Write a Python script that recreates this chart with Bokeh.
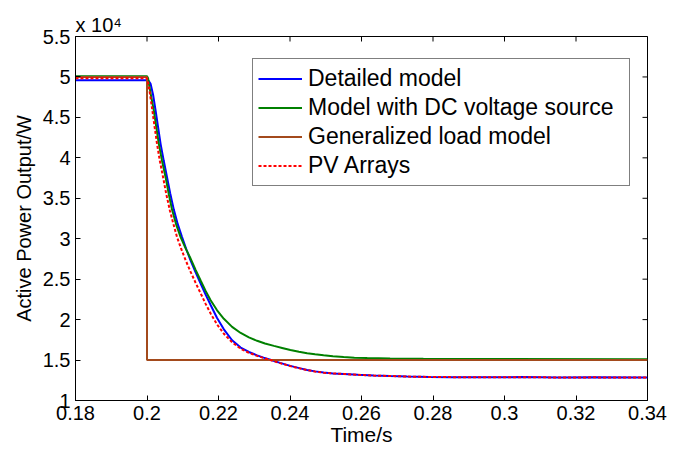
from math import pi
from bokeh.plotting import figure
from bokeh.models import Range1d, FixedTicker, Legend, LegendItem
from bokeh.embed import file_html
from bokeh.resources import INLINE

# ---- data (power in units of 10^4 W, as on the axis) ----
t_detailed = [0.18, 0.2000, 0.2005, 0.2010, 0.2017, 0.2024, 0.2031, 0.2038, 0.2047, 0.2056,
              0.2065, 0.2075, 0.2086, 0.2098, 0.2110, 0.2122, 0.2136, 0.2150, 0.2164, 0.2178,
              0.2196, 0.2215, 0.2238, 0.2262, 0.2285, 0.2308, 0.2326, 0.2345, 0.2372, 0.2401,
              0.2429, 0.2448, 0.2470, 0.2494, 0.2520, 0.2550, 0.2590, 0.2634, 0.2680, 0.2728,
              0.2790, 0.2849, 0.2950, 0.3050, 0.3150, 0.3250, 0.3400]
p_detailed = [4.96, 4.96, 4.95, 4.915, 4.78, 4.585, 4.38, 4.173, 3.96, 3.76,
              3.56, 3.36, 3.18, 3.02, 2.87, 2.73, 2.585, 2.445, 2.31, 2.18,
              2.02, 1.88, 1.745, 1.655, 1.60, 1.558, 1.53, 1.503, 1.465, 1.428,
              1.397, 1.378, 1.36, 1.345, 1.335, 1.328, 1.318, 1.309, 1.302, 1.297,
              1.292, 1.288, 1.286, 1.289, 1.284, 1.287, 1.283]

t_dcsource = [0.18, 0.2000, 0.2003, 0.2006, 0.2012, 0.2019, 0.2026, 0.2033, 0.2042, 0.2052,
              0.2061, 0.2070, 0.2082, 0.2094, 0.2108, 0.2122, 0.2136, 0.2150, 0.2164, 0.2178,
              0.2196, 0.2215, 0.2238, 0.2262, 0.2285, 0.2308, 0.2330, 0.2355, 0.2378, 0.2401,
              0.2425, 0.2448, 0.2470, 0.2494, 0.2520, 0.2550, 0.2580, 0.2616, 0.2680, 0.2773,
              0.3000, 0.3400]
p_dcsource = [5.01, 5.01, 4.985, 4.90, 4.75, 4.585, 4.38, 4.173, 3.965, 3.76,
              3.55, 3.36, 3.17, 3.02, 2.88, 2.755, 2.615, 2.483, 2.355, 2.24,
              2.115, 2.01, 1.91, 1.835, 1.78, 1.738, 1.705, 1.675, 1.65, 1.625,
              1.603, 1.585, 1.571, 1.559, 1.547, 1.537, 1.530, 1.524, 1.519, 1.515,
              1.512, 1.510]

t_general = [0.18, 0.2, 0.2, 0.34]
p_general = [5.0, 5.0, 1.5, 1.5]

t_pv = [0.18, 0.2000, 0.2003, 0.2008, 0.2015, 0.2021, 0.2028, 0.2036, 0.2045, 0.2054,
        0.2064, 0.2074, 0.2084, 0.2096, 0.2108, 0.2122, 0.2136, 0.2150, 0.2164, 0.2178,
        0.2196, 0.2215, 0.2238, 0.2262, 0.2285, 0.2308, 0.2326, 0.2345, 0.2372, 0.2401,
        0.2429, 0.2448, 0.2470, 0.2494, 0.2520, 0.2550, 0.2590, 0.2634, 0.2680, 0.2728,
        0.2790, 0.2849, 0.2950, 0.3050, 0.3150, 0.3250, 0.3400]
p_pv = [4.985, 4.985, 4.93, 4.80, 4.585, 4.39, 4.173, 3.96, 3.76, 3.55,
        3.35, 3.18, 3.02, 2.87, 2.735, 2.59, 2.455, 2.325, 2.195, 2.075,
        1.94, 1.825, 1.72, 1.64, 1.59, 1.552, 1.525, 1.50, 1.462, 1.425,
        1.395, 1.376, 1.359, 1.344, 1.334, 1.329, 1.317, 1.308, 1.303, 1.296,
        1.291, 1.289, 1.287, 1.288, 1.285, 1.286, 1.284]

series_names = ["Detailed model", "Model with DC voltage source",
                "Generalized load model", "PV Arrays"]
series_colors = ["#0000FF", "#008000", "#A34A1C", "#FF0000"]

x_ticks = [0.18, 0.2, 0.22, 0.24, 0.26, 0.28, 0.3, 0.32, 0.34]
x_tick_labels = ["0.18", "0.2", "0.22", "0.24", "0.26", "0.28", "0.3", "0.32", "0.34"]
y_ticks = [1, 1.5, 2, 2.5, 3, 3.5, 4, 4.5, 5, 5.5]
y_tick_labels = ["1", "1.5", "2", "2.5", "3", "3.5", "4", "4.5", "5", "5.5"]
scale_text = "x 10\u2074"

FONT = "Liberation Sans"

x0, x1 = x_ticks[0], x_ticks[-1]
y0, y1 = y_ticks[0], y_ticks[-1]

p = figure(width=673, height=452, output_backend="svg", toolbar_location=None,
           x_range=Range1d(x0, x1), y_range=Range1d(y0, y1),
           min_border_left=75, min_border_right=26, min_border_top=36,
           min_border_bottom=52, title=scale_text)
p.background_fill_color = "white"
p.border_fill_color = "white"
p.outline_line_color = "black"
p.outline_line_width = 1
p.xgrid.visible = False
p.ygrid.visible = False

p.title.align = "left"
p.title.offset = 0
p.title.standoff = 2
p.title.text_font = FONT
p.title.text_font_size = "20px"
p.title.text_font_style = "normal"
p.title.text_color = "black"

def style_axis(ax, ticks, overrides):
    ax.ticker = FixedTicker(ticks=ticks)
    ax.axis_line_color = "black"
    ax.major_tick_line_color = "black"
    ax.minor_tick_line_color = None
    ax.major_tick_in = 5
    ax.major_tick_out = 0
    ax.major_label_overrides = dict(zip(ticks, overrides))
    ax.major_label_text_font = FONT
    ax.major_label_text_font_size = "20px"
    ax.major_label_text_color = "black"
    ax.major_label_standoff = 5
    ax.axis_label_text_font = FONT
    ax.axis_label_text_font_style = "normal"
    ax.axis_label_text_color = "black"

style_axis(p.xaxis[0], x_ticks, x_tick_labels)
style_axis(p.yaxis[0], y_ticks, y_tick_labels)
p.xaxis[0].axis_label = "Time/s"
p.yaxis[0].axis_label = "Active Power Output/W"
p.xaxis[0].axis_label_text_font_size = "21px"
p.yaxis[0].axis_label_text_font_size = "20px"
p.xaxis[0].axis_label_standoff = 0
p.yaxis[0].axis_label_standoff = 5

# inward ticks on the top and right edges of the box (clipped to the frame)
p.scatter(x_ticks, [y1] * len(x_ticks), marker="dash", size=10, angle=pi / 2,
          line_color="black", line_width=1)
p.scatter([x1] * len(y_ticks), y_ticks, marker="dash", size=10, angle=0,
          line_color="black", line_width=1)

r1 = p.line(t_detailed, p_detailed, line_color=series_colors[0], line_width=2)
r2 = p.line(t_dcsource, p_dcsource, line_color=series_colors[1], line_width=2)
r3 = p.line(t_general, p_general, line_color=series_colors[2], line_width=2)
r4 = p.line(t_pv, p_pv, line_color=series_colors[3], line_width=2, line_dash="3 2")

legend = Legend(items=[LegendItem(label=n, renderers=[r]) for n, r in
                       zip(series_names, [r1, r2, r3, r4])],
                location=(177, 214), orientation="vertical",
                padding=5, margin=0, spacing=0,
                glyph_width=44, glyph_height=29, label_height=29,
                label_width=316, label_standoff=6,
                label_text_font=FONT, label_text_font_size="23px",
                label_text_color="black",
                border_line_color="black", border_line_width=1,
                background_fill_color="white", background_fill_alpha=1)
p.add_layout(legend)

open("out.html", "w").write(file_html(p, INLINE))
